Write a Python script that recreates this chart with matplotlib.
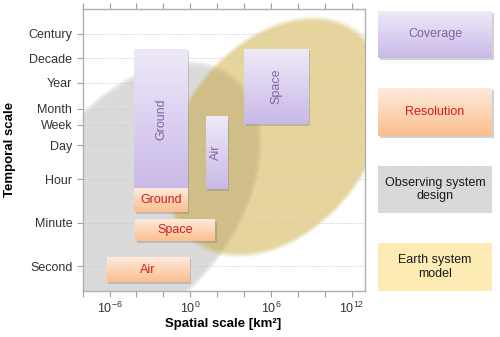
import numpy as np
import matplotlib
matplotlib.use("Agg")
import matplotlib.pyplot as plt
from matplotlib.colors import LinearSegmentedColormap
from matplotlib.image import AxesImage
from matplotlib.patches import Rectangle
from matplotlib.transforms import Bbox, TransformedBbox, BboxTransformTo
import matplotlib.patheffects as pe

plt.rcParams['font.family'] = ['Liberation Sans', 'DejaVu Sans']
plt.rcParams['mathtext.fontset'] = 'custom'
plt.rcParams['mathtext.rm'] = 'Liberation Sans'
plt.rcParams['mathtext.it'] = 'Liberation Sans:italic'

# time scale (seconds) for the y ticks
time_labels = ['Second', 'Minute', 'Hour', 'Day', 'Week', 'Month', 'Year', 'Decade', 'Century']
time_values = [1, 60, 3600, 86400, 604800, 2.63e6, 3.156e7, 3.156e8, 3.156e9]

# spatial ticks (km2)
x_ticks = [1e-8, 1e-6, 1e-4, 1e-2, 1e0, 1e2, 1e4, 1e6, 1e8, 1e10, 1e12]
x_ticklabels = ['', '$10^{-6}$', '', '', '$10^{0}$', '', '', '$10^{6}$', '', '', '$10^{12}$']

# coverage boxes: x range [km2], y range [s]
cov_names = ['Ground', 'Air', 'Space']
cov_x0 = [7e-5, 14, 1e4]
cov_x1 = [0.65, 560, 6.3e8]
cov_y0 = [1480, 1480, 6.6e5]
cov_y1 = [7.2e8, 1.3e6, 7.2e8]

# resolution boxes
res_names = ['Ground', 'Space', 'Air']
res_x0 = [7e-5, 7.8e-5, 6e-7]
res_x1 = [0.65, 69, 0.85]
res_y0 = [166, 10.5, 0.23]
res_y1 = [1480, 80, 2.3]

# ellipses in decades: centre x, centre y, semi axes, angle (deg)
obs_ellipse = (-3.87, 2.73, 9.38, 4.85, 19.4)
esm_ellipse = (6.39, 5.28, 8.37, 4.42, 15.8)

cov_top, cov_bot, cov_text = '#eee9f8', '#c9b9e8', '#8064a2'
res_top, res_bot, res_text = '#feeadc', '#fbbf8e', '#d41c1c'


def ellipse(cx, cy, r1, r2, ang, s=1.0):
    t = np.linspace(0, 2 * np.pi, 300)
    th = np.radians(ang)
    ex = cx + s * r1 * np.cos(t) * np.cos(th) - s * r2 * np.sin(t) * np.sin(th)
    ey = cy + s * r1 * np.cos(t) * np.sin(th) + s * r2 * np.sin(t) * np.cos(th)
    return 10 ** ex, 10 ** ey


def soft_ellipse(ax, params, color, alpha, z):
    # a few stacked layers give the blurred rim
    layer = 0.1 if alpha < 1 else 0.35
    inner = 1 - (1 - alpha) / (1 - layer) ** 4
    ex, ey = ellipse(*params, s=0.98)
    ax.fill(ex, ey, color=color, alpha=inner, lw=0, zorder=z)
    for s in [0.99, 1.0, 1.01, 1.02]:
        ex, ey = ellipse(*params, s=s)
        ax.fill(ex, ey, color=color, alpha=layer, lw=0, zorder=z)


def grad_box(ax, x0, x1, y0, y1, top, bot, z=3, shadow=True):
    rect = Rectangle((x0, y0), x1 - x0, y1 - y0, facecolor=bot, edgecolor='none', zorder=z - 0.1)
    if shadow:
        rect.set_path_effects([pe.SimplePatchShadow(offset=(1.2, -1.5), shadow_rgbFace='#808080', alpha=0.35),
                               pe.Normal()])
    ax.add_patch(rect)
    tf = BboxTransformTo(TransformedBbox(Bbox([[x0, y0], [x1, y1]]), ax.transData))
    cmap = LinearSegmentedColormap.from_list('g', [bot, top])
    im = AxesImage(ax, cmap=cmap, interpolation='bilinear', origin='lower',
                   extent=(0, 1, 0, 1), transform=tf)
    im.set_data(np.linspace(0, 1, 64).reshape(-1, 1))
    im.set_zorder(z)
    ax.add_image(im)


fig = plt.figure(figsize=(5, 3.37), dpi=100)
ax = fig.add_axes([0.1654, 0.1374, 0.5646, 0.8359])
ax.set_xscale('log')
ax.set_yscale('log')

soft_ellipse(ax, obs_ellipse, '#dadada', 1.0, 1)
soft_ellipse(ax, esm_ellipse, (0.78, 0.62, 0.12), 0.42, 1.1)

for i in range(3):
    grad_box(ax, cov_x0[i], cov_x1[i], cov_y0[i], cov_y1[i], cov_top, cov_bot, z=3)
    xm = np.sqrt(cov_x0[i] * cov_x1[i])
    ym = np.sqrt(cov_y0[i] * cov_y1[i])
    ax.text(xm, ym, cov_names[i], rotation=90, ha='center', va='center',
            color=cov_text, fontsize=9, zorder=6)
for i in range(3):
    grad_box(ax, res_x0[i], res_x1[i], res_y0[i], res_y1[i], res_top, res_bot, z=4)
    xm = np.sqrt(res_x0[i] * res_x1[i])
    ym = np.sqrt(res_y0[i] * res_y1[i])
    ax.text(xm, ym, res_names[i], ha='center', va='center',
            color=res_text, fontsize=9, zorder=6)

ax.set_xlim(1e-8, 10 ** 13)
ax.set_ylim(0.1, 10 ** 10.5)
ax.set_autoscale_on(False)

ax.set_yticks(time_values)
ax.set_yticklabels(time_labels)
ax.set_xticks(x_ticks)
ax.set_xticklabels(x_ticklabels)
ax.minorticks_off()
ax.grid(axis='y', linestyle=(0, (1, 1.5)), color='#c8c8c8', lw=0.7)
for g in ax.get_ygridlines():
    g.set_zorder(2)

ax.tick_params(axis='both', direction='out', length=4, width=0.8, color='#a0a0a0',
               labelsize=9, labelcolor='#333333')
ax.tick_params(axis='x', top=True, labeltop=False, pad=3)
for s in ax.spines.values():
    s.set_color('#b0b0b0')
    s.set_linewidth(1.0)
    s.set_zorder(7)

ax.set_xlabel('Spatial scale [km²]', fontsize=9.5, fontweight='bold')
ax.set_ylabel('Temporal scale', fontsize=9.5, fontweight='bold')
ax.xaxis.set_label_coords(0.497, -0.097)
ax.yaxis.set_label_coords(-0.235, 0.5)

# legend boxes on the right, in pixel-like coordinates (y downwards)
lax = fig.add_axes([0, 0, 1, 1])
lax.set_xlim(0, 500)
lax.set_ylim(337, 0)
lax.axis('off')
leg = [('Coverage', 11, 58, cov_top, cov_bot, cov_text),
       ('Resolution', 88, 136, res_top, res_bot, res_text),
       ('Observing system\ndesign', 166, 213, '#d9d9d9', '#d9d9d9', '#1a1a1a'),
       ('Earth system\nmodel', 243, 291, '#feecb6', '#fdebb3', '#1a1a1a')]
for name, yt, yb, top, bot, col in leg:
    grad_box(lax, 378, 492, yt, yb, top, bot, z=3, shadow=(yt < 150))
    lax.text(435, (yt + yb) / 2, name, ha='center', va='center', color=col,
             fontsize=9, linespacing=1.15, zorder=6)

fig.savefig('out.png', dpi=100)
